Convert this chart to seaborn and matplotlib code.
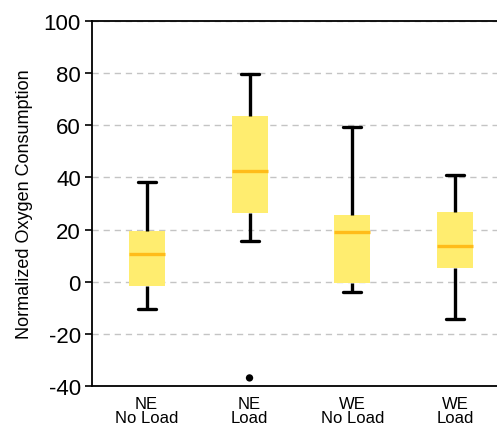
import matplotlib
matplotlib.use("Agg")
import matplotlib.pyplot as plt
import seaborn as sns
import pandas as pd

# Five-number summaries per condition (min, Q1, median, Q3, max)
categories = ["NE\nNo Load", "NE\nLoad", "WE\nNo Load", "WE\nLoad"]
whisker_low = [-10.6, 15.5, -4.1, -14.4]
q1 = [-1.5, 26.4, -0.5, 5.3]
median = [10.5, 42.6, 19.2, 13.6]
q3 = [19.5, 63.7, 25.6, 26.7]
whisker_high = [38.2, 79.6, 59.3, 41.1]

# Points beyond the whiskers
outlier_category = ["NE\nLoad"]
outlier_value = [-36.9]

rows = []
for i, cat in enumerate(categories):
    for v in (whisker_low[i], q1[i], median[i], q3[i], whisker_high[i]):
        rows.append({"condition": cat, "value": v})
df = pd.DataFrame(rows)
out_df = pd.DataFrame({"condition": outlier_category, "value": outlier_value})

sns.set_style("white")
plt.rcParams["font.family"] = ["Liberation Sans", "DejaVu Sans"]
plt.rcParams["axes.unicode_minus"] = False
plt.rcParams["text.color"] = "black"
plt.rcParams["axes.labelcolor"] = "black"
plt.rcParams["xtick.color"] = "black"
plt.rcParams["ytick.color"] = "black"

fig = plt.figure(figsize=(4.97, 4.27), dpi=100)
ax = fig.add_axes([92 / 497, 40 / 427, 418 / 497, 365 / 427])

box_color = "#FFED6F"
median_color = "#FFBC1A"

sns.boxplot(
    data=df, x="condition", y="value", order=categories, ax=ax,
    whis=(0, 100), width=0.35, fill=True, color=box_color,
    showfliers=False,
    boxprops=dict(facecolor=box_color, edgecolor="none", linewidth=0),
    medianprops=dict(color=median_color, linewidth=2.4),
    whiskerprops=dict(color="black", linewidth=2.4),
    capprops=dict(color="black", linewidth=2.4),
)
sns.scatterplot(
    data=out_df, x="condition", y="value", ax=ax,
    color="black", s=28, edgecolor="none", zorder=5, legend=False,
)

ax.set_xlim(-0.53, 3.53)
ax.set_ylim(-40, 100)
ax.set_yticks(range(-40, 101, 20))
ax.set_axisbelow(True)
ax.yaxis.grid(True, color="#c4c4c4", linestyle=(0, (4.5, 3.5)), linewidth=1.0)
ax.xaxis.grid(False)

for side in ("left", "top", "bottom"):
    ax.spines[side].set_color("black")
    ax.spines[side].set_linewidth(1.3)
ax.spines["right"].set_visible(False)

ax.tick_params(axis="y", which="both", left=True, length=5, width=1.2,
               color="black", labelcolor="black", labelsize=16, pad=3)
ax.tick_params(axis="x", length=0, labelsize=12, labelcolor="black", pad=7)
for lbl in ax.get_xticklabels():
    lbl.set_linespacing(0.92)

ax.set_xlabel("")
ax.set_ylabel("Normalized Oxygen Consumption", fontsize=13, labelpad=8,
              color="black")

fig.savefig("out.png", dpi=100)
